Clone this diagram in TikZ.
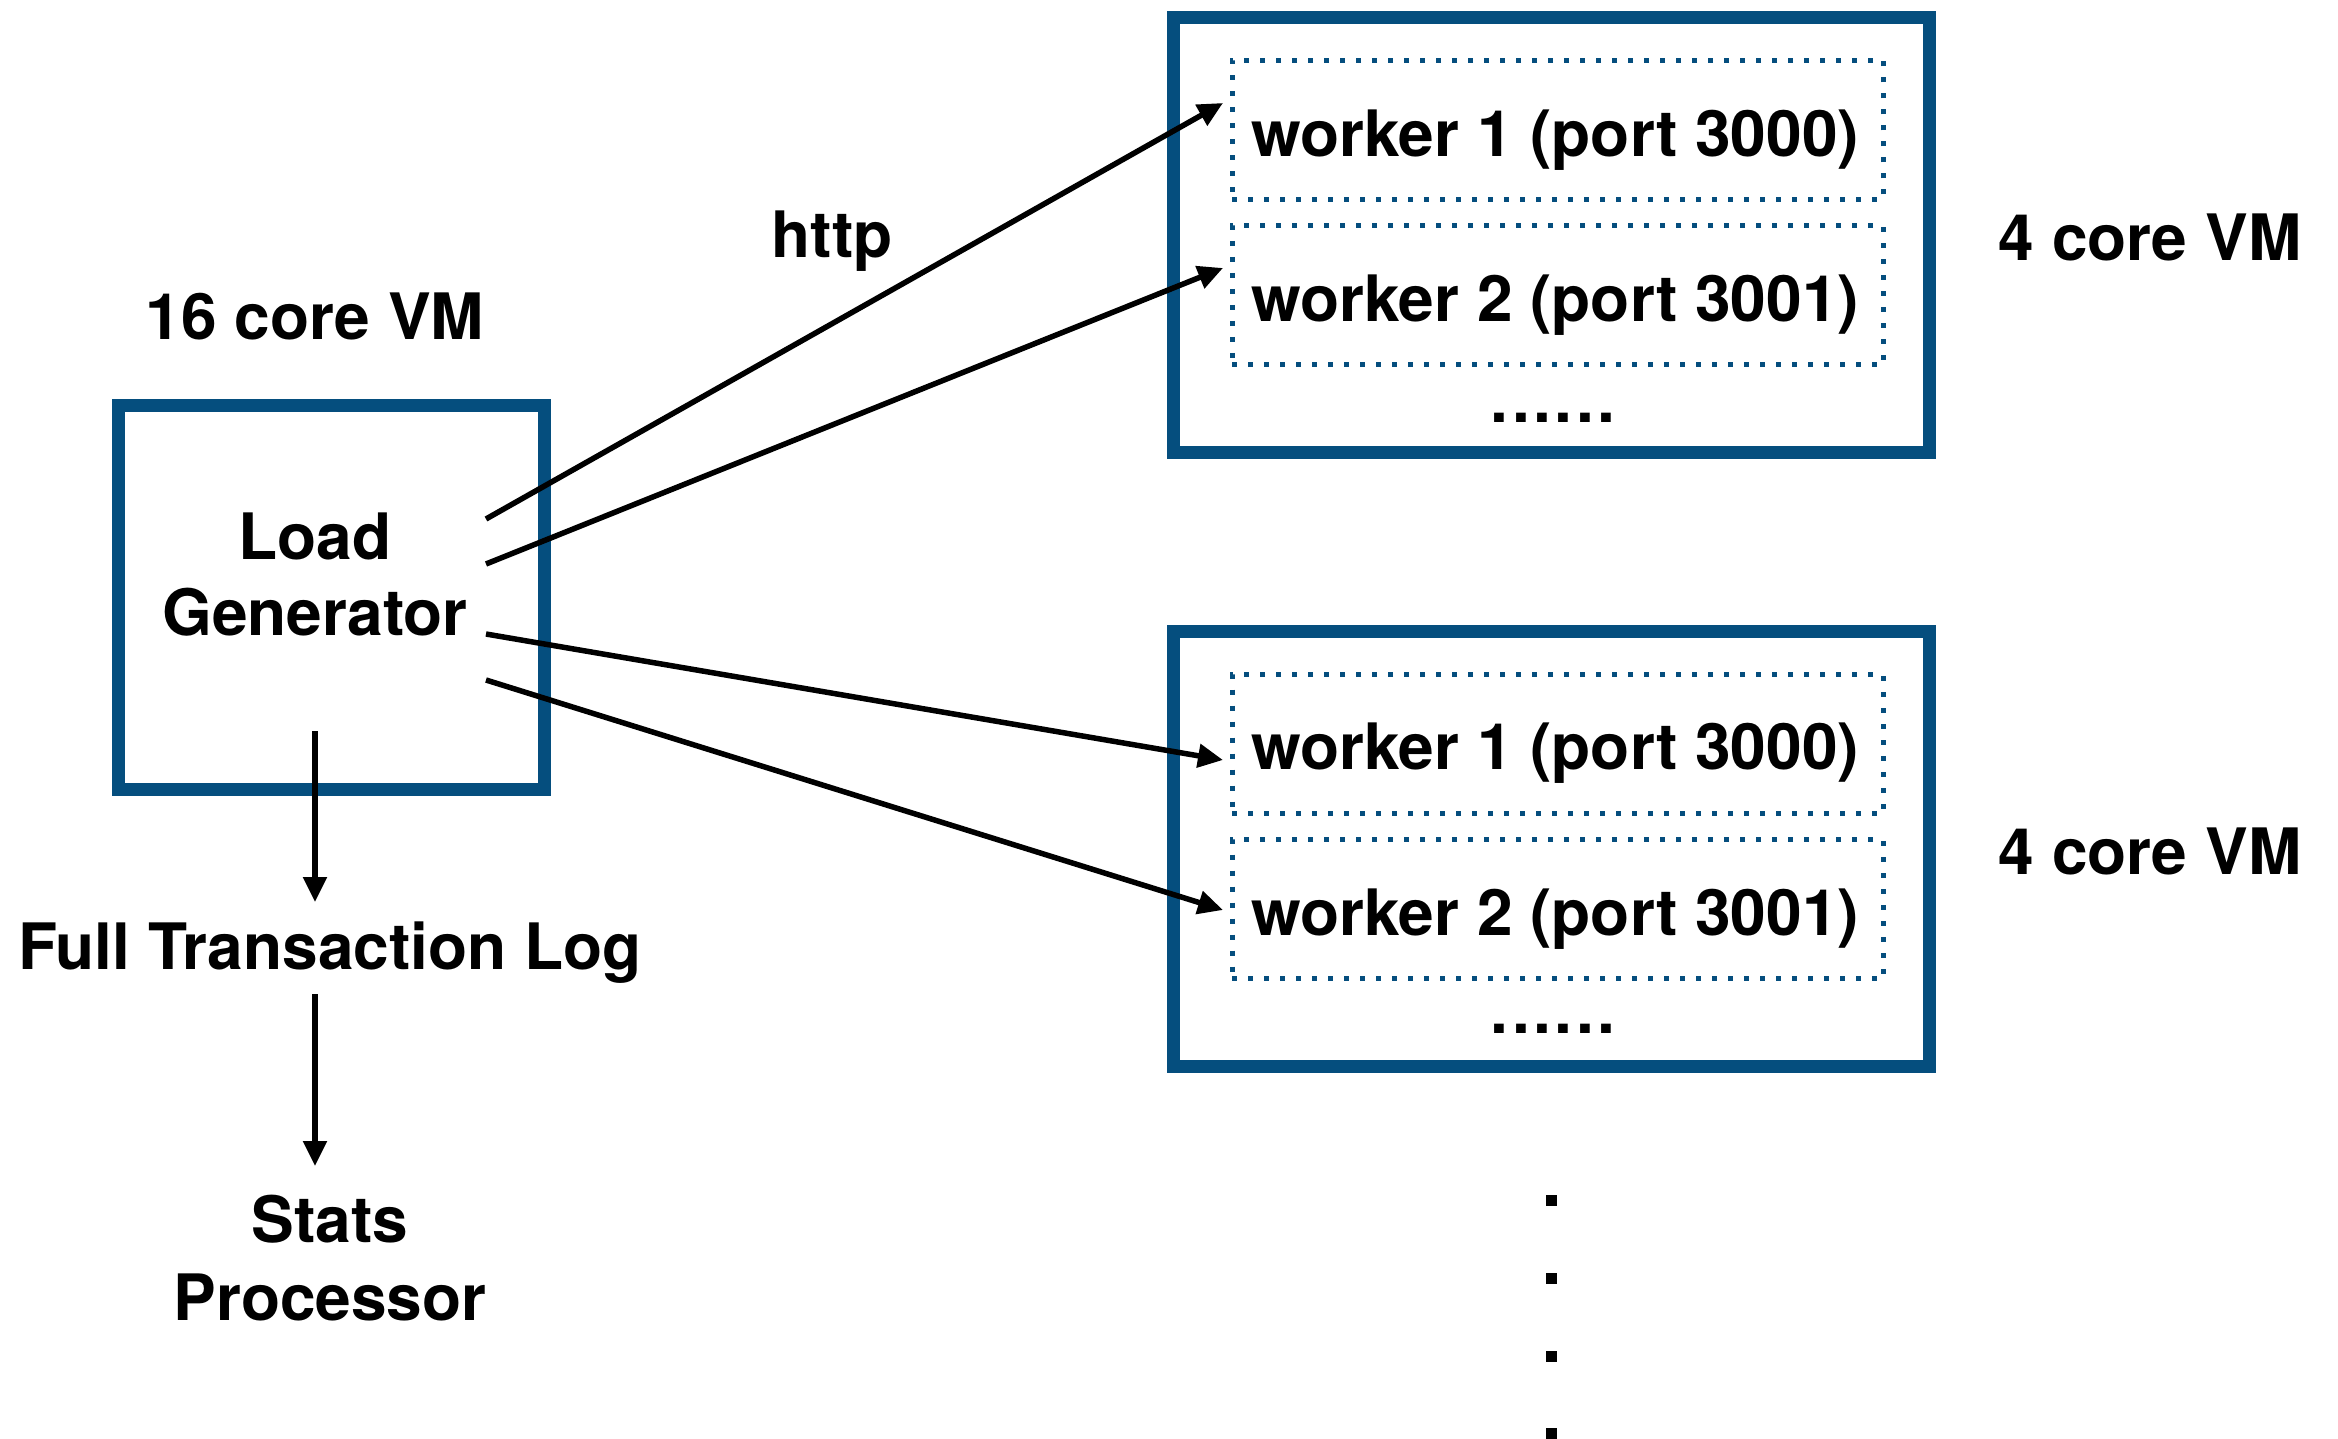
\documentclass[tikz,border=0pt]{standalone}
\usepackage{fontspec}
\setmainfont{TeX Gyre Heros}
\usetikzlibrary{arrows.meta}
\definecolor{vmblue}{HTML}{054E7E}
\newcommand{\sixdots}{.\kern3.5pt.\kern3.5pt.\kern3.5pt.\kern3.5pt.\kern3.5pt.}
\begin{document}
\begin{tikzpicture}[x=1pt,y=-1pt,
  every node/.style={inner sep=0pt, outer sep=0pt},
  lbl/.style={font=\fontsize{64}{72}\selectfont\bfseries, anchor=base},
  vmbox/.style={draw=vmblue, line width=13pt, minimum width=756pt},
  lgbox/.style={draw=vmblue, line width=13pt, minimum width=426pt, minimum height=384pt},
  wbox/.style={draw=vmblue, line width=5pt, dash pattern=on 5pt off 11pt, minimum width=651pt},
  conn/.style={line width=5.5pt, -{Triangle[length=25pt,width=23pt]}},
  vdot/.style={fill=black, minimum width=11pt, minimum height=11pt}]
\useasboundingbox (0,0) rectangle (2338,1439);

% load generator
\node[lgbox] (lg) at (331,597) {};
\node[lbl] (lgvm) at (315,340) {16 core VM};
\node[lbl] (lgt1) at (315,559) {Load};
\node[lbl] (lgt2) at (315,635) {Generator};
\node[lbl] (http) at (832,258) {http};

% VM boxes
\node[vmbox, minimum height=434pt] (vm1) at (1551,235) {};
\node[vmbox, minimum height=435pt] (vm2) at (1551,848.5) {};
\node[wbox, minimum height=139pt] (w1) at (1557.5,130) {};
\node[wbox, minimum height=139pt] (w2) at (1557.5,295.5) {};
\node[wbox, minimum height=139pt] (w3) at (1557.5,744) {};
\node[wbox, minimum height=139pt] (w4) at (1557.5,909) {};
\node[lbl] (w1t) at (1555,157) {worker 1 (port 3000)};
\node[lbl] (w2t) at (1555,322) {worker 2 (port 3001)};
\node[lbl] (w3t) at (1555,769) {worker 1 (port 3000)};
\node[lbl] (w4t) at (1555,935) {worker 2 (port 3001)};
\node[lbl] (d1) at (1553,422) {\sixdots};
\node[lbl] (d2) at (1553,1033) {\sixdots};
\node[lbl] (vm1t) at (2150,261) {4 core VM};
\node[lbl] (vm2t) at (2150,874) {4 core VM};

% vertical dots
\node[vdot] (v1) at (1551,1200) {};
\node[vdot] (v2) at (1551,1278) {};
\node[vdot] (v3) at (1551,1356) {};
\node[vdot] (v4) at (1551,1433) {};

% log chain
\node[lbl] (log) at (330,969) {Full Transaction Log};
\node[lbl] (st1) at (330,1242) {Stats};
\node[lbl] (st2) at (330,1320) {Processor};

% connector ends
\coordinate (s1) at (486,519);
\coordinate (s2) at (486,564);
\coordinate (s3) at (486,634);
\coordinate (s4) at (486,680);
\coordinate (e1) at (1223,103);
\coordinate (e2) at (1223,268);
\coordinate (e3) at (1223,760);
\coordinate (e4) at (1223,910);
\coordinate (a1) at (315,731);
\coordinate (a2) at (315,902);
\coordinate (b1) at (315,994);
\coordinate (b2) at (315,1166);

\draw[conn] (s1) -- (e1);
\draw[conn] (s2) -- (e2);
\draw[conn] (s3) -- (e3);
\draw[conn] (s4) -- (e4);
\draw[conn] (a1) -- (a2);
\draw[conn] (b1) -- (b2);
\end{tikzpicture}
\end{document}
